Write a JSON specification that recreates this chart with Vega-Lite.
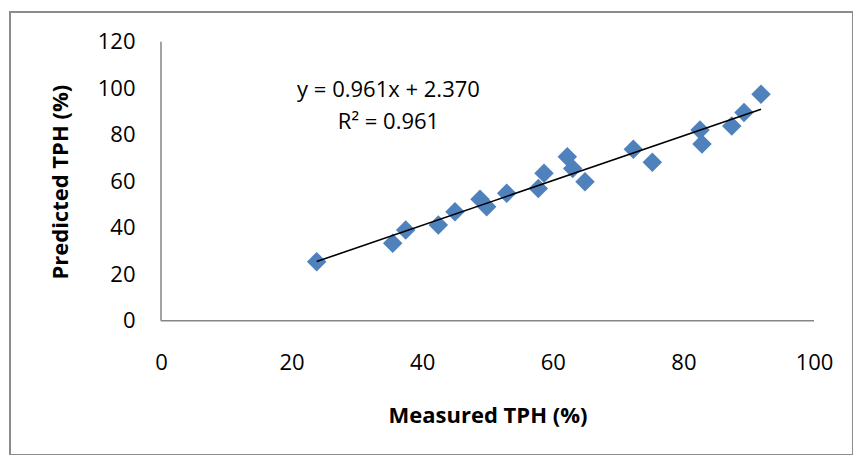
{
  "$schema": "https://vega.github.io/schema/vega-lite/v6.json",
  "width": 843,
  "height": 443,
  "autosize": {"type": "none"},
  "padding": {"left": 10, "top": 12, "right": 0, "bottom": 0},
  "background": "white",
  "config": {
    "view": {"stroke": "#8c8c8c", "strokeWidth": 2},
    "font": "Open Sans"
  },
  "datasets": {
    "points": [
      {"measured": 23.84, "predicted": 25.4},
      {"measured": 35.48, "predicted": 33.3},
      {"measured": 37.47, "predicted": 39.0},
      {"measured": 42.47, "predicted": 41.2},
      {"measured": 45.02, "predicted": 46.9},
      {"measured": 48.85, "predicted": 52.2},
      {"measured": 49.88, "predicted": 49.0},
      {"measured": 52.94, "predicted": 54.8},
      {"measured": 57.78, "predicted": 56.9},
      {"measured": 58.65, "predicted": 63.4},
      {"measured": 62.22, "predicted": 70.5},
      {"measured": 63.05, "predicted": 65.5},
      {"measured": 64.93, "predicted": 59.8},
      {"measured": 72.33, "predicted": 73.7},
      {"measured": 75.24, "predicted": 68.1},
      {"measured": 82.54, "predicted": 82.0},
      {"measured": 82.85, "predicted": 76.0},
      {"measured": 87.4, "predicted": 83.7},
      {"measured": 89.28, "predicted": 89.5},
      {"measured": 91.88, "predicted": 97.4}
    ],
    "one": [{}]
  },
  "layer": [
    {
      "data": {"name": "points"},
      "mark": {"type": "point", "shape": "diamond", "filled": true, "size": 380, "color": "#4F81BD", "opacity": 1, "strokeWidth": 0},
      "encoding": {
        "x": {
          "field": "measured",
          "type": "quantitative",
          "scale": {"domain": [-23.12, 105.97], "nice": false, "zero": false},
          "axis": {
            "values": [0, 20, 40, 60, 80, 100],
            "grid": false,
            "ticks": false,
            "tickSize": 0,
            "domain": false,
            "offset": -134.3,
            "labelPadding": 42,
            "labelBaseline": "middle",
            "labelFontSize": 22,
            "labelFont": "Open Sans",
            "labelColor": "black",
            "labelFlush": false,
            "labelOverlap": false,
            "title": "Measured TPH (%)",
            "titleFont": "Open Sans",
            "titleFontSize": 22,
            "titleFontWeight": "bold",
            "titleColor": "black",
            "titleX": 477.5,
            "titleY": 94.3,
            "titleBaseline": "middle",
            "titleAlign": "center"
          }
        },
        "y": {
          "field": "predicted",
          "type": "quantitative",
          "scale": {"domain": [-57.76, 132.77], "nice": false, "zero": false},
          "axis": {
            "values": [0, 20, 40, 60, 80, 100, 120],
            "grid": false,
            "ticks": false,
            "tickSize": 0,
            "domain": false,
            "offset": -151,
            "labelPadding": 26,
            "labelFontSize": 22,
            "labelFont": "Open Sans",
            "labelColor": "black",
            "labelFlush": false,
            "labelOverlap": false,
            "title": "Predicted TPH (%)",
            "titleFont": "Open Sans",
            "titleFontSize": 22,
            "titleFontWeight": "bold",
            "titleColor": "black",
            "titleAngle": -90,
            "titleX": -101,
            "titleY": 169.7,
            "titleBaseline": "middle",
            "titleAlign": "center"
          }
        }
      }
    },
    {
      "data": {"name": "points"},
      "transform": [{"regression": "predicted", "on": "measured"}],
      "mark": {"type": "line", "color": "black", "strokeWidth": 1.6},
      "encoding": {
        "x": {"field": "measured", "type": "quantitative"},
        "y": {"field": "predicted", "type": "quantitative"}
      }
    },
    {
      "data": {"name": "one"},
      "mark": {"type": "rule", "color": "#868686", "strokeWidth": 1.5},
      "encoding": {
        "x": {"datum": 0, "type": "quantitative"},
        "y": {"datum": 0, "type": "quantitative"},
        "y2": {"datum": 120}
      }
    },
    {
      "data": {"name": "one"},
      "mark": {"type": "rule", "color": "#868686", "strokeWidth": 1.5},
      "encoding": {
        "y": {"datum": 0, "type": "quantitative"},
        "x": {"datum": 0, "type": "quantitative"},
        "x2": {"datum": 100}
      }
    },
    {
      "data": {"name": "one"},
      "mark": {"type": "text", "fontSize": 22, "font": "Open Sans", "fontWeight": "normal", "color": "black", "align": "center", "baseline": "middle"},
      "encoding": {
        "x": {"datum": 34.84, "type": "quantitative"},
        "y": {"datum": 99.2, "type": "quantitative"},
        "text": {"value": "y = 0.961x + 2.370"}
      }
    },
    {
      "data": {"name": "one"},
      "mark": {"type": "text", "fontSize": 22, "font": "Open Sans", "fontWeight": "normal", "color": "black", "align": "center", "baseline": "middle"},
      "encoding": {
        "x": {"datum": 34.84, "type": "quantitative"},
        "y": {"datum": 85.5, "type": "quantitative"},
        "text": {"value": "R² = 0.961"}
      }
    }
  ]
}
